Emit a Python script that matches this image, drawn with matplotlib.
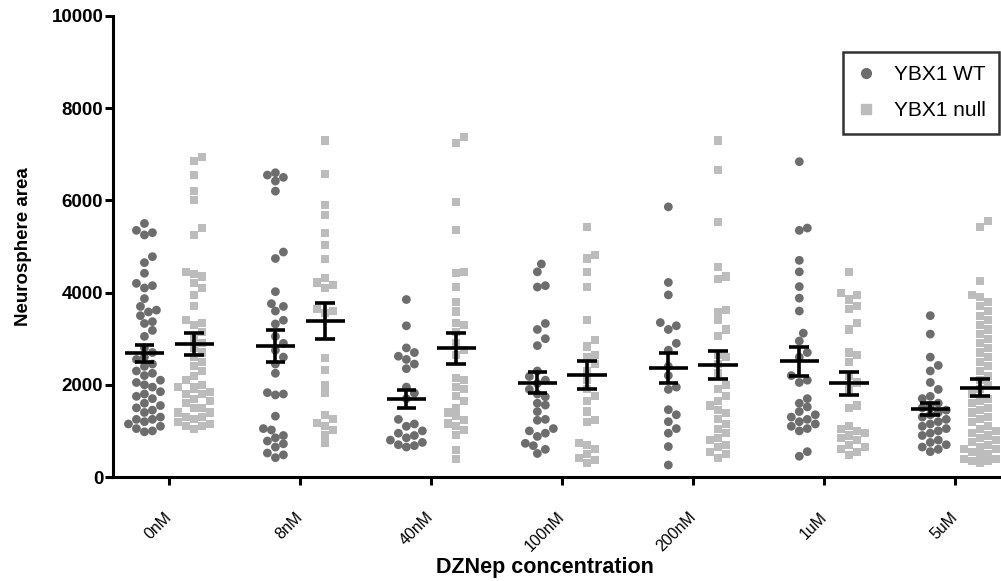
import numpy as np
import matplotlib
matplotlib.use("Agg")
import matplotlib.pyplot as plt
from matplotlib.lines import Line2D

plt.rcParams['font.family'] = ['Liberation Sans', 'DejaVu Sans']

categories = ["0nM", "8nM", "40nM", "100nM", "200nM", "1uM", "5uM"]
series_names = ["YBX1 WT", "YBX1 null"]

wt_0nM = [5500, 5350, 5300, 5250, 4780, 4650, 4420, 4200, 4150, 4100, 3870, 3700, 3620, 3580, 3500,
          3370, 3330, 3180, 3050, 2800, 2700, 2600, 2550, 2450, 2400, 2300, 2250, 2200, 2100, 2050,
          2000, 1950, 1850, 1800, 1750, 1700, 1600, 1550, 1500, 1450, 1400, 1300, 1250, 1250, 1200,
          1150, 1100, 1050, 1000, 980]
null_0nM = [6950, 6850, 6550, 6200, 6000, 5400, 5250, 4450, 4400, 4350, 4200, 4100, 3950, 3700, 3400,
            3350, 3300, 3150, 3000, 2900, 2800, 2700, 2600, 2500, 2400, 2300, 2200, 2100, 2000, 1950,
            1950, 1900, 1850, 1800, 1800, 1700, 1650, 1600, 1500, 1500, 1400, 1400, 1300, 1300, 1250,
            1200, 1150, 1100, 1100, 1050]
wt_8nM = [6600, 6550, 6500, 6420, 6200, 4880, 4740, 4020, 3760, 3700, 3600, 3400, 3320, 3050, 2900,
          2750, 2600, 2450, 2250, 1830, 1800, 1780, 1320, 1050, 1020, 900, 850, 780, 720, 650,
          520, 480, 420]
null_8nM = [7300, 6580, 5900, 5680, 5290, 5030, 4720, 4320, 4220, 4160, 4100, 3650, 3600, 3550, 2580,
            2320, 2000, 1820, 1350, 1250, 1170, 1100, 1020, 910, 730]
wt_40nM = [3850, 3280, 2800, 2700, 2620, 2550, 2450, 2350, 1950, 1820, 1700, 1250, 1150, 1100, 1000,
           950, 900, 850, 800, 750, 700, 680, 650]
null_40nM = [7380, 7240, 5970, 5360, 4450, 4420, 4130, 3800, 3590, 3350, 3300, 3150, 2900, 2750, 2650,
             2150, 2100, 1960, 1900, 1750, 1640, 1500, 1400, 1320, 1240, 1160, 1100, 1020, 910, 590, 400]
wt_100nM = [4620, 4450, 4150, 4120, 3330, 3200, 3000, 2850, 2300, 2180, 2100, 2030, 1900, 1800, 1740,
            1600, 1560, 1420, 1250, 1230, 1050, 1000, 950, 880, 730, 680, 600, 510]
null_100nM = [5430, 4820, 4740, 4450, 4130, 3400, 2980, 2830, 2650, 2600, 2450, 2300, 2100, 1900, 1750,
              1650, 1420, 1240, 1200, 730, 700, 600, 500, 420, 370, 300]
wt_200nM = [5860, 4220, 3950, 3350, 3280, 3200, 2900, 2750, 2400, 2200, 1950, 1900, 1460, 1350, 1200,
            1050, 950, 660, 260]
null_200nM = [7300, 6650, 5530, 4560, 4350, 4300, 3620, 3580, 3400, 3200, 3050, 2650, 2600, 2450, 2250,
              2000, 1900, 1750, 1650, 1550, 1450, 1380, 1250, 1150, 1050, 950, 850, 800, 700, 650,
              550, 500, 420]
wt_1uM = [6840, 5400, 5350, 4700, 4450, 4130, 3880, 3600, 3120, 2950, 2700, 2600, 2200, 2100, 2050,
          1700, 1600, 1520, 1420, 1350, 1300, 1250, 1200, 1150, 1100, 1050, 1000, 550, 450]
null_1uM = [4450, 4000, 3950, 3850, 3700, 3650, 3350, 3200, 2700, 2650, 2500, 2200, 2050, 1900, 1550,
            1500, 1100, 1050, 1000, 950, 900, 850, 800, 700, 650, 600, 550, 480]
wt_5uM = [3500, 3100, 2600, 2420, 2300, 2050, 1900, 1750, 1700, 1600, 1550, 1500, 1450, 1400, 1350,
          1300, 1250, 1200, 1150, 1100, 1050, 1000, 950, 900, 800, 750, 700, 650, 600, 550]
null_5uM = [5550, 5420, 4250, 3950, 3900, 3800, 3700, 3600, 3500, 3400, 3300, 3200, 3100, 3000, 2900,
            2800, 2700, 2600, 2500, 2400, 2300, 2200, 2100, 2000, 1900, 1800, 1700, 1650, 1600, 1500,
            1450, 1400, 1300, 1250, 1200, 1100, 1050, 1000, 950, 900, 850, 800, 750, 700, 650,
            600, 600, 550, 500, 500, 450, 400, 400, 350, 350, 300]

wt_groups = [wt_0nM, wt_8nM, wt_40nM, wt_100nM, wt_200nM, wt_1uM, wt_5uM]
null_groups = [null_0nM, null_8nM, null_40nM, null_100nM, null_200nM, null_1uM, null_5uM]

yticks = [0, 2000, 4000, 6000, 8000, 10000]

wt_color = "#6d6d6d"
null_color = "#bcbcbc"

W, H = 1001, 581
fig = plt.figure(figsize=(W / 100, H / 100), dpi=100)
ax_left, ax_right, ax_top, ax_bottom = 113, 1001, 16, 477
ax = fig.add_axes([ax_left / W, 1 - ax_bottom / H, (ax_right - ax_left) / W, (ax_bottom - ax_top) / H])

xmin, xmax = -0.43, 6.35
ymin, ymax = 0, 10000
ax.set_xlim(xmin, xmax)
ax.set_ylim(ymin, ymax)

px_per_x = (ax_right - ax_left) / (xmax - xmin)
px_per_y = (ax_bottom - ax_top) / (ymax - ymin)


def swarm_offsets(values, diam_px=8.0, step_px=4.0, max_px=18.0):
    """Deterministic beeswarm layout (pixel offsets) for a column of values."""
    vals = np.asarray(values, dtype=float)
    order = np.argsort(vals)
    placed = []
    offs = np.zeros(len(vals))
    cands = [0.0]
    k = 1
    while k * step_px <= max_px:
        cands += [k * step_px, -k * step_px]
        k += 1
    for i in order:
        y = vals[i] * px_per_y
        best = None
        for c in cands:
            if all((px - c) ** 2 + (py - y) ** 2 >= diam_px ** 2 for (px, py) in placed):
                best = c
                break
        if best is None:
            best = min(cands, key=lambda c: sum(1 for (px, py) in placed
                                                if (px - c) ** 2 + (py - y) ** 2 < diam_px ** 2))
        placed.append((best, y))
        offs[i] = best
    return offs / px_per_x


group_shift = 0.19
mean_half = 0.15
cap_half = 0.075

for gi in range(len(categories)):
    for vals, shift, color, marker, ms in [
        (wt_groups[gi], -group_shift, wt_color, "o", 40),
        (null_groups[gi], group_shift, null_color, "s", 34),
    ]:
        xc = gi + shift
        offs = swarm_offsets(vals)
        ax.scatter(xc + offs, vals, s=ms, marker=marker, color=color, edgecolors="none",
                   zorder=2, clip_on=False)
        arr = np.asarray(vals, dtype=float)
        mean = arr.mean()
        sem = arr.std(ddof=1) / np.sqrt(len(arr))
        ax.hlines(mean, xc - mean_half, xc + mean_half, color="black", lw=2.6, zorder=4)
        ax.vlines(xc, mean - sem, mean + sem, color="black", lw=2.6, zorder=4)
        ax.hlines([mean - sem, mean + sem], xc - cap_half, xc + cap_half, color="black", lw=2.6, zorder=4)

for side in ["top", "right"]:
    ax.spines[side].set_visible(False)
for side in ["left", "bottom"]:
    ax.spines[side].set_linewidth(2.2)
    ax.spines[side].set_color("black")

ax.set_yticks(yticks)
ax.set_yticklabels([str(t) for t in yticks], fontsize=13.5, fontweight="bold")
ax.tick_params(axis="y", length=6, width=2.2, pad=1)
ax.set_xticks(range(len(categories)))
ax.set_xticklabels(categories, fontsize=11.5, rotation=45, ha="right", va="center",
                   rotation_mode="anchor")
ax.tick_params(axis="x", length=6, width=2.2, pad=21)

ax.set_ylabel("Neurosphere area", fontsize=13.5, fontweight="bold", labelpad=14)
fig.text(545 / W, 1 - 567 / H, "DZNep concentration", fontsize=15.5, fontweight="bold",
         ha="center", va="center")

handles = [
    Line2D([], [], marker="o", linestyle="none", color=wt_color, markersize=7),
    Line2D([], [], marker="s", linestyle="none", color=null_color, markersize=6.5),
]
leg = ax.legend(handles, series_names, loc="upper right", bbox_to_anchor=(0.998, 0.922),
                fontsize=15, frameon=True, fancybox=False, edgecolor="black",
                borderaxespad=0, handletextpad=0.9, labelspacing=0.8, borderpad=0.65,
                handlelength=0.9)
leg.get_frame().set_linewidth(1.8)

fig.savefig("out.png", dpi=100)
